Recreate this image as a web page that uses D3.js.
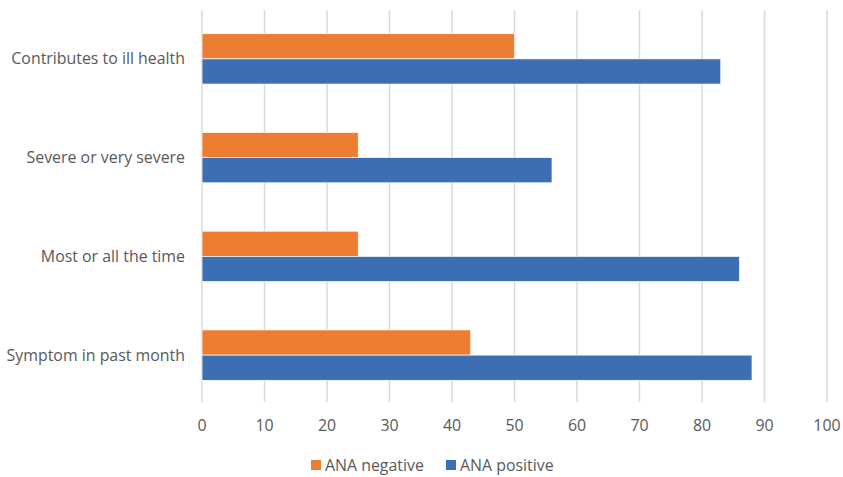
<!DOCTYPE html>
<html><head><meta charset="utf-8">
<script src="https://cdn.jsdelivr.net/npm/d3@7"></script>
<style>body{margin:0;background:#fff}svg{display:block}text{font-family:"Open Sans","Liberation Sans",sans-serif;fill:#595959}</style>
</head><body><svg id="c" width="843" height="477"></svg>
<script>
const categories = ["Contributes to ill health","Severe or very severe","Most or all the time","Symptom in past month"];
const anaNegative = [50,25,25,43];
const anaPositive = [83,56,86,88];
const seriesNames = ["ANA negative","ANA positive"];
const colors = ["#ED7D31","#3D6EB4"];
const xTicks = [0,10,20,30,40,50,60,70,80,90,100];

const svg = d3.select("#c");
const x = d3.scaleLinear().domain([0,100]).range([202,827]);
const y = d3.scaleBand().domain(categories).range([9.5,404.5]).paddingInner(0.49).paddingOuter(0.245);
const sub = d3.scaleBand().domain(seriesNames).range([0,y.bandwidth()]);

svg.append("g").selectAll("line").data(xTicks).join("line")
  .attr("x1",d=>x(d)).attr("x2",d=>x(d)).attr("y1",10).attr("y2",402)
  .attr("stroke","#d9d9d9").attr("stroke-width",1.5);

const data = categories.map((c,i)=>({c, vals:[anaNegative[i],anaPositive[i]]}));
const g = svg.append("g");
data.forEach(d=>{
  d.vals.forEach((v,j)=>{
    g.append("rect").attr("x",x(0)).attr("y",y(d.c)+sub(seriesNames[j]))
      .attr("width",x(v)-x(0)).attr("height",sub.bandwidth())
      .attr("fill",colors[j])
      .attr("stroke","#fff").attr("stroke-width",0.7);
  });
});

const fs = 15.9;
svg.append("g").selectAll("text").data(categories).join("text")
  .attr("x",185).attr("y",d=>y(d)+y.bandwidth()/2).attr("dy","0.35em")
  .attr("text-anchor","end").attr("font-size",fs).text(d=>d);

svg.append("g").selectAll("text").data(xTicks).join("text")
  .attr("x",d=>x(d)).attr("y",425).attr("dy","0.35em")
  .attr("text-anchor","middle").attr("font-size",fs).text(d=>d);

const leg = svg.append("g");
const legX = [311,446];
seriesNames.forEach((n,i)=>{
  leg.append("rect").attr("x",legX[i]).attr("y",460).attr("width",10).attr("height",10)
    .attr("fill",colors[i]);
  leg.append("text").attr("x",legX[i]+14).attr("y",465).attr("dy","0.35em")
    .attr("font-size",fs).text(n);
});
</script></body></html>
